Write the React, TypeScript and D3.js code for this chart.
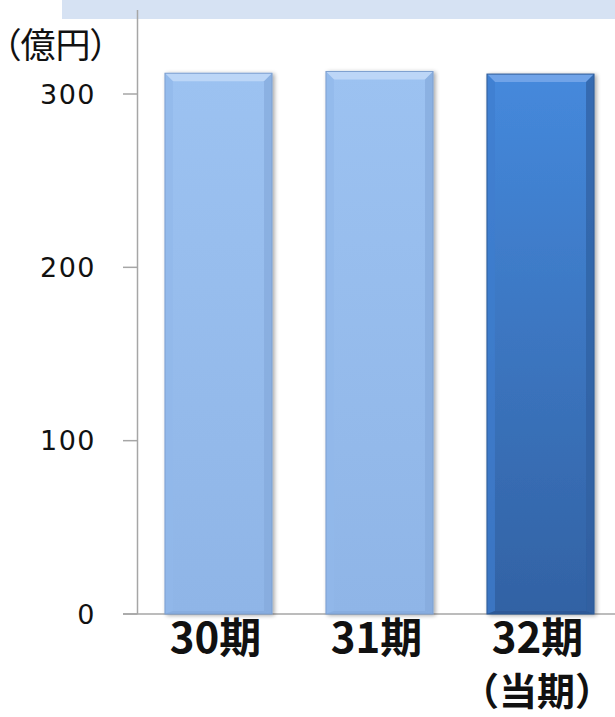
import React from "react";
import * as d3 from "d3";

const categories = ["30期", "31期", "32期"];
const subLabels = ["", "", "（当期）"];
const values = [312, 313, 311.5];
const yTicks = [0, 100, 200, 300];
const unitLabel = "（億円）";

const W = 615;
const H = 717;

export default function App() {
  const x = d3.scaleBand<string>().domain(categories).range([138, 621]).paddingInner(0.335).paddingOuter(0.1675);
  const y = d3.scaleLinear().domain([0, 300]).range([614, 94]);
  const bw = x.bandwidth();
  const b = 8;

  return (
    <svg width={W} height={H} style={{ position: "absolute", left: 0, top: 0, background: "#fff" }}>
      <defs>
        <linearGradient id="lightFace" x1="0" y1="0" x2="0" y2="1">
          <stop offset="0" stopColor="#9cc2f1" />
          <stop offset="1" stopColor="#8fb5e7" />
        </linearGradient>
        <linearGradient id="darkFace" x1="0" y1="0" x2="0" y2="1">
          <stop offset="0" stopColor="#4589dc" />
          <stop offset="1" stopColor="#3262a4" />
        </linearGradient>
        <filter id="shadow" x="-20%" y="-5%" width="140%" height="110%">
          <feGaussianBlur in="SourceAlpha" stdDeviation="2" />
          <feOffset dx="2" dy="1" result="ob" />
          <feComponentTransfer><feFuncA type="linear" slope="0.35" /></feComponentTransfer>
          <feMerge><feMergeNode /><feMergeNode in="SourceGraphic" /></feMerge>
        </filter>
      </defs>
      <rect x={62} y={0} width={W - 62} height={19} fill="#d6e2f3" />
      {/* axis */}
      <line x1={137.5} x2={137.5} y1={10} y2={614} stroke="#a6a6a6" strokeWidth={1.5} />
      <line x1={123} x2={W} y1={614} y2={614} stroke="#a6a6a6" strokeWidth={1.5} />
      {yTicks.map((t) => (
        <g key={t}>
          <line x1={123} x2={137.5} y1={y(t)} y2={y(t)} stroke="#a6a6a6" strokeWidth={1.5} />
          <text x={96} y={y(t)} dy="0.36em" textAnchor="end" fontFamily="'DejaVu Sans', Verdana, sans-serif" fontSize={27} letterSpacing={1.5} fill="#111">
            {t}
          </text>
        </g>
      ))}
      <text x={3} y={45} dy="0.36em" fontFamily="'Noto Sans CJK JP', sans-serif" fontSize={35} fill="#111" style={{ fontFeatureSettings: '"palt"' }}>
        {unitLabel}
      </text>
      {categories.map((c, i) => {
        const x0 = x(c)!;
        const x1 = x0 + bw;
        const y0 = y(values[i]);
        const y1 = y(0);
        const dark = i === 2;
        const top = dark ? "#6fa3e8" : "#bcd6f7";
        const left = dark ? "#3f7dce" : "#92b8ea";
        const right = dark ? "#2f5f9f" : "#84a9dc";
        const bottom = dark ? "#2c5893" : "#86abdd";
        return (
          <g key={c} filter="url(#shadow)">
            <rect x={x0} y={y0} width={bw} height={y1 - y0} fill={dark ? "url(#darkFace)" : "url(#lightFace)"} />
            <polygon points={`${x0},${y0} ${x1},${y0} ${x1 - b},${y0 + b} ${x0 + b},${y0 + b}`} fill={top} />
            <polygon points={`${x0},${y0} ${x0 + b},${y0 + b} ${x0 + b},${y1 - 3} ${x0},${y1}`} fill={left} opacity={0.7} />
            <polygon points={`${x1},${y0} ${x1 - b},${y0 + b} ${x1 - b},${y1 - 3} ${x1},${y1}`} fill={right} opacity={0.7} />
            <polygon points={`${x0},${y1} ${x1},${y1} ${x1 - b},${y1 - 3} ${x0 + b},${y1 - 3}`} fill={bottom} opacity={0.8} />
            <rect x={x0} y={y0} width={bw} height={y1 - y0} fill="none" stroke={dark ? "#2d5a96" : "#7d9fcf"} strokeWidth={1} />
          </g>
        );
      })}
      {categories.map((c, i) => (
        <g key={"l" + c}>
          <text x={x(c)! + bw / 2 - 3} y={638} dy="0.36em" textAnchor="middle" fontFamily="'Noto Sans CJK JP', sans-serif" fontWeight="bold" fontSize={42} fill="#111">
            {c}
          </text>
          {subLabels[i] && (
            <text x={537} y={691} dy="0.36em" textAnchor="middle" fontFamily="'Noto Sans CJK JP', sans-serif" fontWeight="bold" fontSize={38} fill="#111">
              {subLabels[i]}
            </text>
          )}
        </g>
      ))}
    </svg>
  );
}
